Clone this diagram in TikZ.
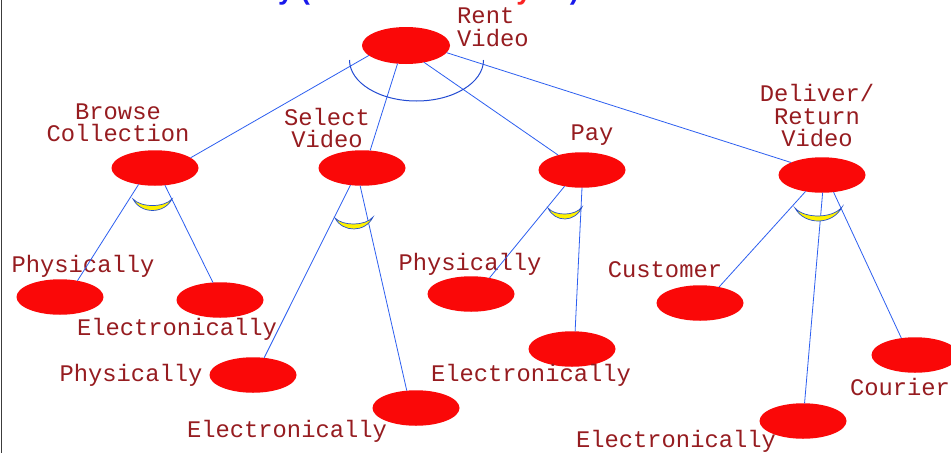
\documentclass[tikz,border=0pt]{standalone}
\usepackage{fontspec}
\newfontfamily\labelfont{Liberation Mono}
\newfontfamily\titlefont{Liberation Sans}
\usetikzlibrary{shapes.geometric}
\definecolor{blobred}{RGB}{250,8,8}
\definecolor{labelred}{RGB}{150,28,32}
\definecolor{linkblue}{RGB}{45,95,240}
\definecolor{arcblue}{RGB}{35,75,210}
\definecolor{titleblue}{RGB}{25,25,235}
\definecolor{titlered}{RGB}{250,35,35}
\definecolor{framegray}{RGB}{60,60,60}
\tikzset{
  goal/.style={ellipse, fill=blobred, minimum width=87pt, minimum height=35.5pt, inner sep=0pt, outer sep=0pt},
  lbl/.style={text=labelred, font=\labelfont\fontsize{23.8}{22.5}\selectfont, inner sep=0pt, align=center},
  link/.style={draw=linkblue, line width=0.8pt},
  andarc/.style={draw=arcblue, line width=1pt},
  orarc/.style={draw=linkblue!85!black, fill=yellow, line width=0.7pt},
}
\begin{document}
\begin{tikzpicture}[x=1pt, y=-1pt]
\useasboundingbox (0,0) rectangle (951,453);
\fill[white] (0,0) rectangle (951,453);

% heading, mostly above the page edge
\node[anchor=base west, inner sep=0pt, font=\titlefont\bfseries\fontsize{27.5}{27.5}\selectfont] (title) at (98,-0.8)
  {\color{titleblue}Task Hierarchy (\color{titlered}Functional Analysis\color{titleblue})};

% left frame edge
\draw[framegray, line width=1.5pt] (1.5,0) -- (1.5,453);

% goal nodes
\node[goal] (rent)    at (406,45.5) [minimum width=88pt, minimum height=37pt] {};
\node[goal] (browse)  at (155,168) {};
\node[goal] (select)  at (362,168) {};
\node[goal] (pay)     at (582,170) {};
\node[goal] (deliver) at (822,175) {};
\node[goal] (phys1)   at (60,297) {};
\node[goal] (elec1)   at (220,300) {};
\node[goal] (phys2)   at (253,375) {};
\node[goal] (elec2)   at (416,408) {};
\node[goal] (phys3)   at (471,294) {};
\node[goal] (elec3)   at (572,349) {};
\node[goal] (cust)    at (700,303) {};
\node[goal] (elec4)   at (803,421) {};
\node[goal] (courier) at (915,355) {};

% labels
\node[lbl, anchor=west, align=left] (lrent) at (457,27) {Rent\\Video};
\node[lbl] (lbrowse)  at (118,123) {Browse\\Collection};
\node[lbl] (lselect)  at (327,128) {Select\\Video};
\node[lbl] (lpay)     at (592,135) {Pay};
\node[lbl] (ldeliver) at (817,116) {Deliver/\\Return\\Video};
\node[lbl] (lphys1)   at (83,266)  {Physically};
\node[lbl] (lelec1)   at (177,329) {Electronically};
\node[lbl] (lphys2)   at (131,375) {Physically};
\node[lbl] (lelec2)   at (287,431) {Electronically};
\node[lbl] (lphys3)   at (470,264) {Physically};
\node[lbl] (lelec3)   at (531,375) {Electronically};
\node[lbl] (lcust)    at (665,270) {Customer};
\node[lbl] (lelec4)   at (676,441) {Electronically};
\node[lbl] (lcourier) at (900,387) {Courier};

% decomposition links
\draw[link] (rent.195) -- (browse.16);
\draw[link] (rent.245) -- (select.65);
\draw[link] (rent.317) -- (pay.148);
\draw[link] (rent.350) -- (deliver.158);
\draw[link] (browse.225) -- (phys1.43);
\draw[link] (browse.300) -- (elec1.112);
\draw[link] (select.236) -- (phys2.57);
\draw[link] (select.264) -- (elec2.118);
\draw[link] (pay.223) -- (phys3.41);
\draw[link] (pay.270) -- (elec3.80);
\draw[link] (deliver.225) -- (cust.40);
\draw[link] (deliver.272) -- (elec4.85);
\draw[link] (deliver.304) -- (courier.129);

% AND arc under the root
\draw[andarc] (483.5,60) arc[start angle=0, end angle=180, x radius=67, y radius=41];

% OR crescents
\draw[orarc] (133,199) .. controls (140.8,214.3) and (164.2,214.3) .. (172,199)
  .. controls (164.2,207.7) and (140.8,207.7) .. (133,199) -- cycle;
\draw[orarc] (335,218) .. controls (342.6,232.8) and (365.4,232.8) .. (373,217)
  .. controls (365.4,226.2) and (342.6,226.2) .. (335,218) -- cycle;
\draw[orarc] (548,208) .. controls (554.8,222.8) and (575.2,222.8) .. (582,207)
  .. controls (575.2,216.2) and (554.8,216.2) .. (548,208) -- cycle;
\draw[orarc] (795,208) .. controls (804.4,225.5) and (832.6,225.5) .. (842,207)
  .. controls (832.6,218.8) and (804.4,218.8) .. (795,208) -- cycle;
\end{tikzpicture}
\end{document}
